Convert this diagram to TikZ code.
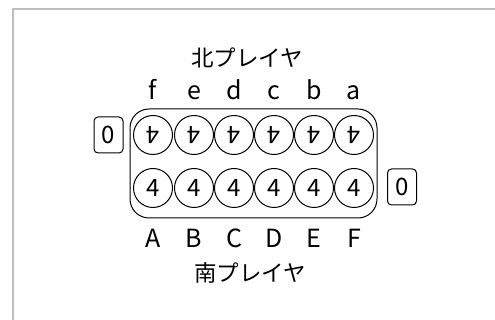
\documentclass[tikz,border=0pt]{standalone}
\usepackage{fontspec}
\setmainfont{Noto Sans CJK JP}
\begin{document}
\begin{tikzpicture}[x=1pt,y=-1pt,
  pit/.style={circle,draw,line width=1pt,minimum size=39pt,inner sep=0pt,font=\fontsize{24}{26}\selectfont},
  store/.style={draw,rounded corners=4pt,line width=1pt,minimum width=29pt,minimum height=36pt,inner sep=0pt,font=\fontsize{24}{26}\selectfont},
  lab/.style={font=\fontsize{25}{27}\selectfont,inner sep=0pt},
  jp/.style={font=\fontsize{22.5}{25}\selectfont,inner sep=0pt}]
\useasboundingbox (0,0) rectangle (495,320);
\draw[line width=1.6pt,black!25] (12.7,320) -- (12.7,9) -- (495,9);
\node[draw,line width=1pt,rounded corners=19pt,minimum width=247pt,minimum height=109pt] (board) at (253.5,163.5) {};
\foreach \i/\x/\t/\b in {1/153/f/A,2/194/e/B,3/234/d/C,4/274/c/D,5/314/b/E,6/354/a/F}{
  \node[pit] (n\i) at (\x,135) {\rotatebox{180}{4}};
  \node[pit] (s\i) at (\x,188) {4};
  \node[lab,anchor=base] (tl\i) at (\x,100) {\t};
  \node[lab,anchor=base] (bl\i) at (\x,248) {\b};
}
\node[store] (nstore) at (108.5,135) {0};
\node[store] (sstore) at (402,187) {0};
\node[jp] (north) at (247,58) {北プレイヤ};
\node[jp] (south) at (250,273) {南プレイヤ};
\end{tikzpicture}
\end{document}
